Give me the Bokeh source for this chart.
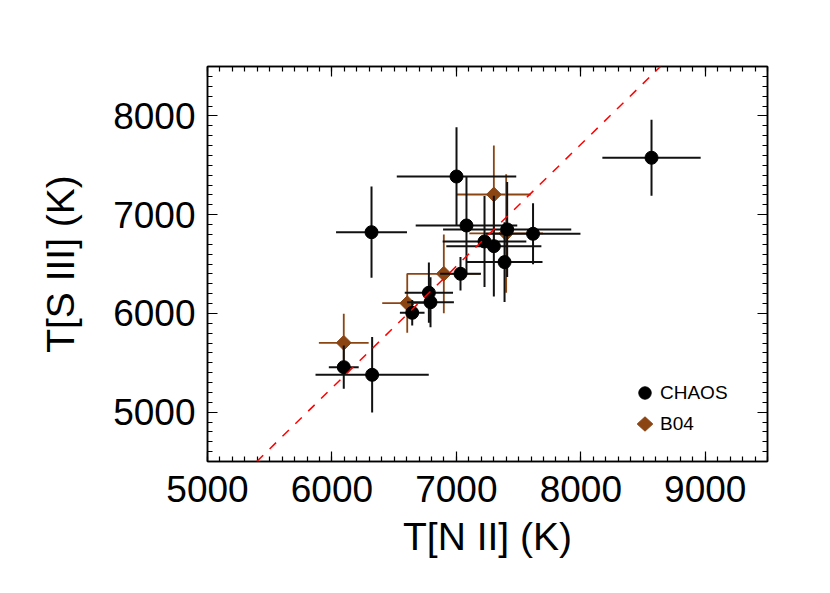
import numpy as np
from bokeh.plotting import figure
from bokeh.models import (LinearAxis, FixedTicker, Range1d, Slope, Legend, LegendItem,
                          PolyAnnotation)
from bokeh.embed import file_html
from bokeh.resources import INLINE

# ---- data ----
chaos_x = [8568, 7001, 6318, 7081, 7408, 7616, 7226, 7301, 7387, 7033, 6779, 6792, 6645, 6095, 6323]
chaos_xerr = [395, 480, 285, 408, 515, 381, 336, 382, 305, 164, 194, 188, 99, 120, 455]
chaos_y = [7576, 7386, 6822, 6890, 6850, 6806, 6728, 6681, 6519, 6401, 6209, 6113, 6006, 5455, 5378]
chaos_yerr = [385, 500, 462, 500, 481, 309, 460, 510, 405, 170, 305, 253, 130, 219, 383]

b04_x = [7301, 6899, 6605, 6095, 7400]
b04_xerr = [296, 295, 201, 200, 296]
b04_y = [7204, 6401, 6103, 5702, 6810]
b04_yerr = [495, 399, 300, 295, 600]

fit_gradient = 1.233
fit_intercept = -2153

x_major = [5000, 6000, 7000, 8000, 9000]
y_major = [5000, 6000, 7000, 8000]
x_minor = list(range(5000, 9501, 100))
y_minor = list(range(4500, 8501, 100))

series_labels = ["CHAOS", "B04"]

FONT = "Liberation Sans"
BROWN = "#8B4513"

p = figure(frame_width=560, frame_height=395, output_backend="svg", toolbar_location=None,
           tools="", x_range=Range1d(5000, 9500), y_range=Range1d(4500, 8500),
           min_border_left=207, min_border_right=55, min_border_top=66, min_border_bottom=120,
           x_axis_label="T[N II] (K)", y_axis_label="T[S III] (K)")
p.background_fill_color = "white"
p.border_fill_color = "white"
p.outline_line_color = "black"
p.outline_line_width = 1.5
p.grid.visible = False

xt = FixedTicker(ticks=x_major, minor_ticks=x_minor)
yt = FixedTicker(ticks=y_major, minor_ticks=y_minor)

def style_axis(ax, ticker, ticks, labels=True):
    ax.ticker = ticker
    ax.axis_line_color = "black"
    ax.axis_line_width = 1.5
    ax.major_tick_in = 10
    ax.major_tick_out = 0
    ax.minor_tick_in = 5
    ax.minor_tick_out = 0
    ax.major_tick_line_color = "black"
    ax.minor_tick_line_color = "black"
    ax.major_tick_line_width = 1.2
    ax.minor_tick_line_width = 1.2
    if labels:
        ax.major_label_text_font = FONT
        ax.major_label_text_font_size = "37px"
        ax.major_label_text_color = "black"
        ax.axis_label_text_font = FONT
        ax.axis_label_text_font_size = "39px"
        ax.axis_label_text_font_style = "normal"
        ax.axis_label_text_color = "black"
    else:
        ax.major_label_overrides = {t: "" for t in ticks}
        ax.major_label_standoff = 0

style_axis(p.xaxis[0], xt, x_major)
style_axis(p.yaxis[0], yt, y_major)
p.xaxis[0].major_label_standoff = 14
p.xaxis[0].axis_label_standoff = 10
p.yaxis[0].major_label_standoff = 12
p.yaxis[0].axis_label_standoff = 28
p.yaxis[0].major_label_orientation = "horizontal"

top = LinearAxis()
right = LinearAxis()
style_axis(top, xt, x_major, labels=False)
style_axis(right, yt, y_major, labels=False)
p.add_layout(top, "above")
p.add_layout(right, "right")

# fit line
p.add_layout(Slope(gradient=fit_gradient, y_intercept=fit_intercept, line_color="red",
                   line_width=1.5, line_dash="9 9"))

# B04 error bars + markers
bx = np.array(b04_x, float); by = np.array(b04_y, float)
bxe = np.array(b04_xerr, float); bye = np.array(b04_yerr, float)
p.segment(bx - bxe, by, bx + bxe, by, line_color=BROWN, line_width=1.8)
p.segment(bx, by - bye, bx, by + bye, line_color=BROWN, line_width=1.8)
p.scatter(bx, by, marker="square", angle=np.pi / 4, size=10.5,
          fill_color=BROWN, line_color=BROWN)

# CHAOS error bars + markers
cx = np.array(chaos_x, float); cy = np.array(chaos_y, float)
cxe = np.array(chaos_xerr, float); cye = np.array(chaos_yerr, float)
p.segment(cx - cxe, cy, cx + cxe, cy, line_color="#111111", line_width=2)
p.segment(cx, cy - cye, cx, cy + cye, line_color="#111111", line_width=2)
r_chaos = p.scatter(cx, cy, marker="circle", size=13, fill_color="black", line_color="black")

# legend (B04 swatch is a diamond drawn in legend-box screen units)
r_b04_leg = p.scatter([], [], marker="square", fill_alpha=0, line_alpha=0)
GL = 31
LX, LY = 422, 22
legend = Legend(items=[LegendItem(label=series_labels[0], renderers=[r_chaos]),
                       LegendItem(label=series_labels[1], renderers=[r_b04_leg])],
                location=(LX, LY), orientation="vertical")
legend.background_fill_alpha = 0
legend.border_line_color = None
legend.padding = 0
legend.margin = 0
legend.spacing = 0
legend.glyph_width = GL
legend.glyph_height = GL
legend.label_standoff = 0
legend.label_text_font = FONT
legend.label_text_font_size = "19px"
legend.label_text_color = "black"
legend.label_height = GL
p.add_layout(legend)

cxl, cyl = LX + GL / 2, LY + GL / 2
hw, hh = 7.8, 7.2
p.add_layout(PolyAnnotation(xs=[cxl - hw, cxl, cxl + hw, cxl], ys=[cyl, cyl + hh, cyl, cyl - hh],
                            xs_units="screen", ys_units="screen",
                            fill_color=BROWN, fill_alpha=1, line_color=BROWN, line_alpha=1))

open("out.html", "w").write(file_html(p, INLINE))
